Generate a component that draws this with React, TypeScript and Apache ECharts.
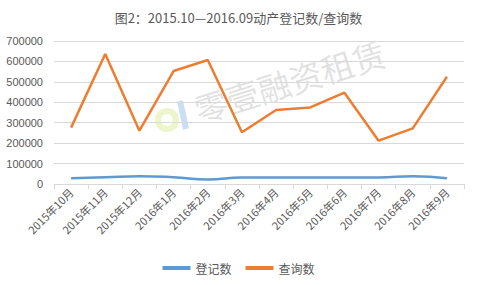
import React, { useEffect, useRef } from "react";
import * as echarts from "echarts";

const categories = [
  "2015年10月", "2015年11月", "2015年12月", "2016年1月", "2016年2月", "2016年3月",
  "2016年4月", "2016年5月", "2016年6月", "2016年7月", "2016年8月", "2016年9月",
];
const registrations = [28000, 33000, 38000, 33000, 22000, 32000, 32000, 32000, 32000, 32000, 38000, 28000];
const queries = [276000, 636000, 261000, 553000, 607000, 253000, 362000, 375000, 447000, 212000, 272000, 525000];
const titleText = "图2：2015.10—2016.09动产登记数/查询数";
const watermark = "零壹融资租赁";

export default function App() {
  const ref = useRef<HTMLDivElement>(null);
  useEffect(() => {
    if (!ref.current) return;
    const chart = echarts.init(ref.current, null, { renderer: "svg" });
    chart.setOption({
      animation: false,
      backgroundColor: "#ffffff",
      title: {
        text: titleText,
        left: "center",
        top: 6,
        textStyle: { fontSize: 13, fontWeight: "normal", color: "#595959", fontFamily: "Noto Sans CJK SC" },
      },
      graphic: [
        {
          type: "text",
          x: 200,
          y: 126,
          rotation: 0.3,
          z: 0,
          style: {
            text: watermark,
            fontSize: 33,
            fill: "rgba(170,170,170,0.35)",
            fontFamily: "Noto Sans CJK SC",
            verticalAlign: "bottom",
          },
        },
        {
          type: "arc",
          z: 0,
          shape: { cx: 167, cy: 120, r: 9, startAngle: 0, endAngle: Math.PI * 2 },
          style: { stroke: "rgba(220,235,150,0.5)", lineWidth: 6, fill: "none" },
        },
        {
          type: "line",
          z: 0,
          shape: { x1: 180, y1: 101, x2: 186, y2: 129 },
          style: { stroke: "rgba(150,190,235,0.5)", lineWidth: 6 },
        },
      ],
      legend: {
        top: 257,
        left: "center",
        itemWidth: 28,
        itemHeight: 4,
        itemGap: 14,
        icon: "rect",
        textStyle: { fontSize: 12, color: "#595959", fontFamily: "Noto Sans CJK SC" },
        data: ["登记数", "查询数"],
      },
      grid: { left: 54, right: 13, top: 41, bottom: 101, containLabel: false },
      xAxis: {
        type: "category",
        data: categories,
        boundaryGap: true,
        axisLine: { lineStyle: { color: "#d9d9d9" } },
        axisTick: { show: true, lineStyle: { color: "#d9d9d9" } },
        axisLabel: { rotate: 45, fontSize: 11, color: "#595959", interval: 0, margin: 6, fontFamily: "Noto Sans CJK SC" },
      },
      yAxis: {
        type: "value",
        min: 0,
        max: 700000,
        interval: 100000,
        axisLine: { show: false },
        axisTick: { show: false },
        splitLine: { lineStyle: { color: "#d9d9d9" } },
        axisLabel: {
          fontSize: 11,
          color: "#595959",
          margin: 11,
          fontFamily: "Liberation Sans",
          formatter: (v: number) => String(v),
        },
      },
      series: [
        {
          name: "登记数",
          type: "line",
          data: registrations,
          smooth: true,
          symbol: "none",
          lineStyle: { width: 2.5, color: "#5B9BD5" },
          itemStyle: { color: "#5B9BD5" },
        },
        {
          name: "查询数",
          type: "line",
          data: queries,
          symbol: "none",
          lineStyle: { width: 2.5, color: "#ED7D31" },
          itemStyle: { color: "#ED7D31" },
        },
      ],
    });
    return () => chart.dispose();
  }, []);
  return <div ref={ref} style={{ position: "fixed", left: 0, top: 0, width: 477, height: 285 }} />;
}
